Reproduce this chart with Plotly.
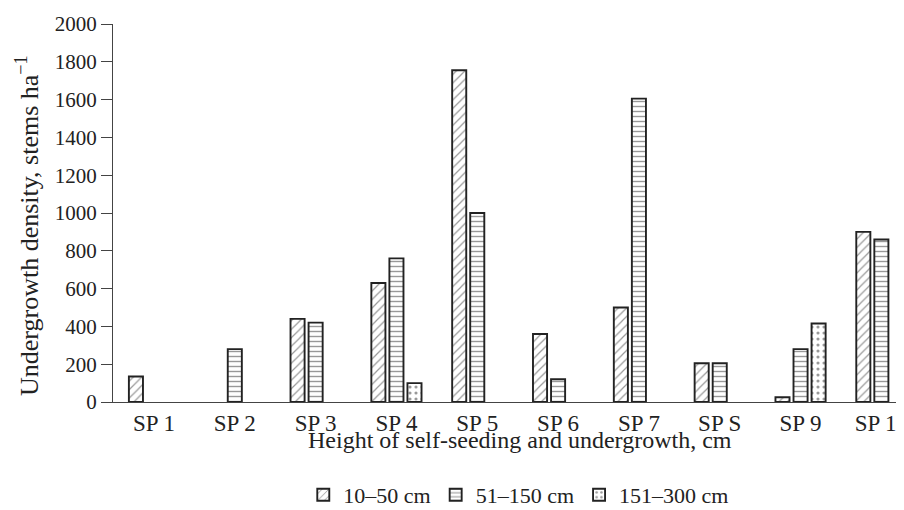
import plotly.graph_objects as go

categories = ["SP 1", "SP 2", "SP 3", "SP 4", "SP 5", "SP 6", "SP 7", "SP S", "SP 9", "SP 10"]
h_10_50 = [135, None, 440, 630, 1755, 360, 500, 205, 25, 900]
h_51_150 = [None, 280, 420, 760, 1000, 120, 1605, 205, 280, 860]
h_151_300 = [None, None, None, 100, None, None, None, None, 415, None]
series_names = ["10–50 cm", "51–150 cm", "151–300 cm"]
y_ticks = [0, 200, 400, 600, 800, 1000, 1200, 1400, 1600, 1800, 2000]

FONT = "Liberation Serif"
patterns = [dict(shape="/", size=6, solidity=0.2),
            dict(shape="-", size=5, solidity=0.28),
            dict(shape=".", size=6, solidity=0.22)]

fig = go.Figure()
for name, vals, pat in zip(series_names, [h_10_50, h_51_150, h_151_300], patterns):
    fig.add_trace(go.Bar(
        x=categories, y=vals, name=name,
        marker=dict(color="white",
                    line=dict(color="#222", width=1.9),
                    pattern=dict(fgcolor="#333", bgcolor="white", fillmode="overlay", **pat)),
    ))

# page body adds an 8px offset; figure is sized/margined to compensate
fig.update_layout(
    width=896, height=502,
    margin=dict(l=105, r=0, t=16, b=108, autoexpand=False),
    paper_bgcolor="white", plot_bgcolor="white",
    font=dict(family=FONT, size=20, color="#222"),
    barmode="group", bargap=0.33, bargroupgap=0.22,
    showlegend=True,
    legend=dict(orientation="h", x=0.513, xanchor="center", y=-0.246, yanchor="middle",
                font=dict(family=FONT, size=22, color="#222"), traceorder="normal",
                itemwidth=30, tracegroupgap=0),
    annotations=[dict(text="Height of self-seeding and undergrowth, cm", xref="paper", yref="paper",
                      x=0.5145, y=-0.1005, xanchor="center", yanchor="middle", showarrow=False,
                      font=dict(family=FONT, size=24, color="#222")),
                 dict(text="Undergrowth density, stems ha<sup>−1</sup>", xref="paper", yref="paper",
                      x=-0.1087, y=0.4656, xanchor="center", yanchor="middle", textangle=-90,
                      showarrow=False, font=dict(family=FONT, size=26, color="#222"))],
)
fig.update_xaxes(range=[-0.507, 9.28], showline=True, linecolor="#444", linewidth=1.2,
                 ticks="", showgrid=False, automargin=False,
                 tickfont=dict(family=FONT, size=23, color="#222"))
fig.update_yaxes(range=[0, 2000], tickvals=y_ticks, showline=True, linecolor="#444", linewidth=1.2,
                 ticks="outside", ticklen=11, tickcolor="#444", showgrid=False, zeroline=False,
                 automargin=False, tickfont=dict(family=FONT, size=21, color="#222"))

fig.write_html("out.html")
